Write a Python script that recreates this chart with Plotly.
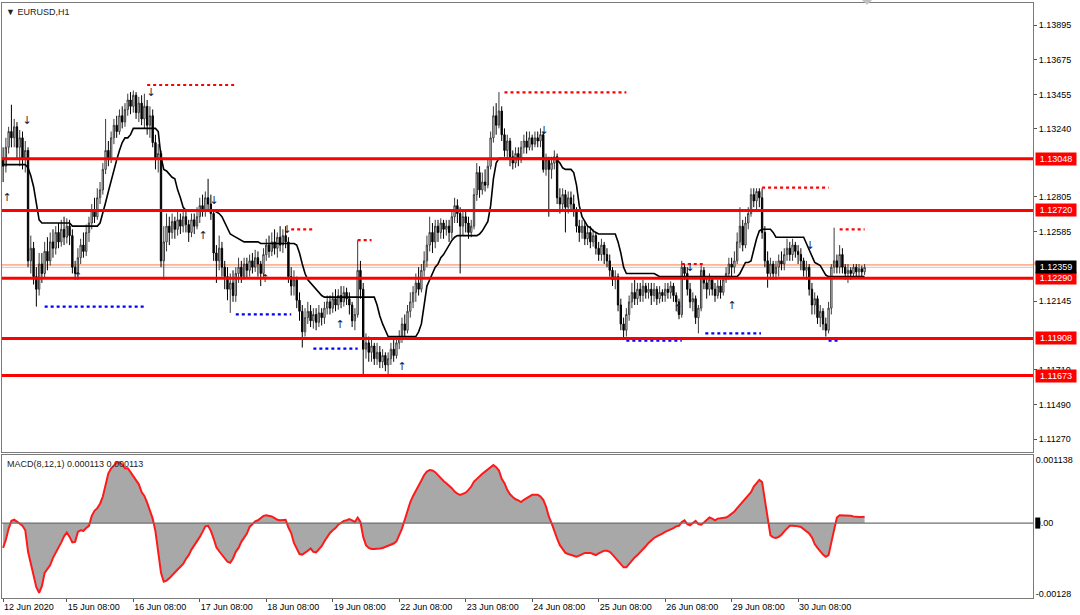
import plotly.graph_objects as go

# ---------------- data (prices in pips above 1.1000) ----------------
BASE = 1.1
PIP = 0.0001

DATE_LABELS = ["12 Jun 2020", "15 Jun 08:00", "16 Jun 08:00", "17 Jun 08:00", "18 Jun 08:00",
               "19 Jun 08:00", "22 Jun 08:00", "23 Jun 08:00", "24 Jun 08:00", "25 Jun 08:00",
               "26 Jun 08:00", "29 Jun 08:00", "30 Jun 08:00"]
DATE_BARS = [0, 23, 47, 71, 95, 119, 143, 167, 191, 215, 239, 263, 287]

OPEN0 = 305
CLOSE = [300,312,322,318,325,312,318,305,310,
         240,248,230,222,238,
         232,246,240,252,248,258,
         252,260,255,262,256,
         236,232,
         242,250,246,258,264,
         272,268,280,285,
         298,310,305,318,
         326,322,332,328,336,
         342,338,345,334,340,330,338,326,332,
         315,305,308,
         240,
         252,262,258,
         265,260,266,262,268,263,258,266,262,268,
         275,272,280,276,270,
         245,240,
         248,236,230,
         222,226,218,232,
         236,230,238,234,
         240,236,242,238,232,244,
         250,246,252,248,255,250,256,252,
         230,
         224,228,215,208,
         195,
         204,208,202,206,201,207,204,210,
         214,210,216,212,218,214,220,216,212,
         202,206,
         234,222,
         184,
         188,182,186,178,182,176,180,174,178,
         184,180,188,192,
         200,196,208,214,220,
         226,222,234,240,
         250,258,252,262,
         258,264,260,262,258,
         268,275,270,262,
         268,264,258,262,
         282,296,285,
         290,288,300,
         318,332,326,335,
         320,310,316,
         306,302,308,304,
         312,316,312,318,314,318,316,320,
         298,
         304,298,302,306,
         280,276,282,274,280,276,272,
         262,258,262,254,258,252,256,
         248,244,250,244,240,
         234,228,230,
         212,200,196,206,
         214,220,216,222,218,224,220,222,
         218,222,216,220,218,222,220,224,218,214,
         206,
         236,232,
         222,214,216,
         204,210,
         234,
         226,222,228,222,218,224,220,228,
         232,238,236,240,
         252,262,250,264,270,
         282,278,284,280,
         258,
         240,232,238,
         232,236,240,238,
         244,248,244,250,246,244,240,
         234,236,
         222,212,216,
         204,208,200,196,
         210,236,
         240,236,
         244,236,
         232,234,232,236,233,235,233,235.9]

HIGH = [312,318,325,339,330,328,323,322,316,
        312,256,252,236,245,
        245,252,255,258,260,262,
        264,266,268,267,266,
        260,240,
        248,254,258,263,268,
        276,280,286,290,
        302,330,316,322,
        330,332,336,338,340,
        346,347,348,347,344,345,346,342,338,
        336,320,314,
        310,
        262,270,268,
        270,268,271,270,272,272,266,270,270,274,
        280,282,284,292,282,
        272,250,
        256,252,240,
        236,232,234,236,
        242,240,242,242,
        244,245,247,246,240,248,
        254,256,258,260,258,262,260,262,
        255,
        236,234,230,220,
        212,
        210,214,212,210,210,212,210,214,
        218,218,220,222,222,224,224,223,220,
        214,210,
        253,240,
        226,
        194,192,190,188,188,186,184,182,182,
        188,190,192,196,
        204,206,212,220,224,
        232,236,238,246,
        256,268,264,266,
        266,267,266,266,266,
        272,280,279,274,
        272,272,268,266,
        286,302,300,
        296,298,304,
        322,338,340,347,
        338,324,320,
        318,310,312,312,
        316,320,322,322,320,322,322,324,
        322,
        308,306,306,310,
        308,286,286,285,284,284,282,
        274,266,266,265,262,262,260,
        258,252,254,252,248,
        244,236,234,
        232,216,204,210,
        218,226,228,226,226,228,226,226,
        226,226,224,224,222,226,226,227,226,220,
        216,
        240,238,
        236,226,220,
        218,212,
        238,
        236,230,232,230,226,228,228,230,
        236,242,242,246,
        258,274,266,268,274,
        286,286,286,286,
        286,
        262,246,242,
        240,240,244,246,
        248,254,252,254,252,250,248,
        242,240,
        238,226,220,
        218,212,210,204,
        214,238,
        261,244,
        250,248,
        238,238,236,238,238,238,237,238]

LOW = [290,296,308,312,312,305,300,298,296,
       236,232,225,211,218,
       226,229,234,237,242,244,
       248,249,250,251,250,
       232,228,
       230,238,242,243,252,
       260,264,266,276,
       282,295,300,302,
       314,318,320,324,325,
       332,333,334,330,328,326,324,320,318,
       312,298,296,
       236,
       228,246,250,
       254,254,256,257,258,258,252,255,257,260,
       264,268,268,272,266,
       240,226,
       234,230,222,
       215,207,214,214,
       226,226,228,229,
       230,232,233,230,224,230,
       240,242,243,244,242,246,245,248,
       226,
       218,218,210,202,
       185,
       192,200,198,197,196,198,199,200,
       206,206,207,208,209,210,211,212,206,
       198,196,
       204,216,
       168,
       178,176,176,174,174,172,172,170,168,
       174,176,178,184,
       188,192,194,204,210,
       214,218,220,230,
       236,246,245,248,
       252,254,254,256,252,
       254,264,264,232,
       256,258,254,255,
       260,278,280,
       282,284,286,
       298,315,320,324,
       316,306,304,
       300,298,299,300,
       302,308,308,310,310,312,312,312,
       296,
       294,268,292,298,
       276,270,272,258,270,272,268,
       258,252,254,250,250,248,249,
       244,240,240,238,236,
       230,224,222,
       208,196,191,192,
       202,210,212,212,214,214,216,216,
       212,214,212,213,214,214,216,216,214,208,
       203,
       204,228,
       218,210,208,
       200,194,
       208,
       222,216,218,218,214,216,216,218,
       226,228,230,232,
       238,248,246,248,260,
       268,274,272,274,
       254,
       236,223,228,
       228,228,230,234,
       234,240,240,240,242,238,234,
       230,228,
       218,206,206,
       200,198,196,192,
       194,206,
       232,232,
       232,232,
       228,226,228,230,230,230,230,231]

# trailing (black) line, pips above 1.1000
TRAIL = ([301]*9 + [299,294,287,277,266] + [264]*11 + [262]*10 + [264] +
         [270,277,284,291,297,304,310,315,318,318,320,324] + [324]*8 +
         [322,306,298,297,295,293,292,285,280,274] + [272]*11 +
         [271,270,268,264,260,257,256,255,254,253] + [252]*6 + [251]*13 +
         [250,245,238,232,228,226,224,222,220,218] + [217]*19 +
         [212,205,200,196,192] + [192]*10 +
         [195,200,212,224,228,232,236,238,242,244,247,250,253,255] + [256]*8 +
         [257,259,262,265,275,292,302] + [305]*21 +
         [304,302,299,298,298,298,296,288,275,268,265,262,261,259,258] + [257]*7 +
         [252,245,236,232] + [232]*10 + [231] + [230]*29 +
         [232,236,239,239,240,247,254,259] + [260]*4 + [258,255] + [255]*10 +
         [251,247,242,239,238,237,234,231] + [230]*14)

# MACD main line, units of 1e-5
MACD = [-45,-30,-10,4,6,3,-1,-5,-13,-52,-75,-98,-116,-126,-114,-90,-84,-76,-63,-54,
        -45,-35,-24,-17,-25,-35,-34,-16,-13,-14,-9,-5,13,22,27,35,48,70,90,99,
        105,109,110,106,99,99,92,84,76,70,56,49,37,22,8,-15,-55,-90,-106,-104,
        -100,-94,-89,-84,-79,-74,-65,-58,-48,-41,-34,-25,-16,-6,-5,-14,-28,-44,-51,-57,
        -64,-70,-72,-64,-52,-45,-34,-26,-19,-7,-2,3,5,9,13,14,13,12,9,6,
        5,6,6,-8,-18,-36,-47,-56,-57,-54,-50,-46,-52,-53,-48,-42,-33,-25,-18,-13,
        -9,-3,1,4,5,7,5,2,10,2,-25,-40,-45,-47,-47,-47,-46,-45,-43,-40,
        -39,-37,-33,-22,-10,6,22,38,49,58,66,77,87,93,96,95,92,86,80,76,
        72,68,63,57,53,51,53,55,60,66,75,80,85,89,93,97,101,105,101,95,
        80,72,60,52,47,43,41,38,42,45,48,51,51,51,48,42,30,12,0,-15,
        -28,-40,-48,-54,-56,-58,-60,-61,-59,-56,-54,-54,-54,-56,-58,-55,-53,-50,-50,-52,
        -57,-63,-70,-76,-80,-80,-74,-67,-62,-58,-53,-48,-42,-36,-31,-27,-24,-22,-19,-16,
        -14,-12,-9,-6,-5,2,5,-2,-4,0,4,-2,-3,1,5,10,8,5,8,9,
        9,10,13,17,21,27,33,39,45,50,56,66,72,78,74,40,5,-22,-26,-27,
        -25,-21,-15,-9,-5,-5,-5,-6,-7,-11,-14,-19,-26,-38,-45,-52,-57,-61,-58,-35,
        -10,10,14,14,14,13,13,12,11,11,11,11.3]

# horizontal levels
H_LEVELS = [1.13048, 1.12720, 1.12290, 1.11908, 1.11673]
LAST_BID = 1.12359
LAST_ASK = 1.12374

# fractal resistance (red dotted) and support (blue dotted) segments: level (pips), start bar, end bar
RES_LEVEL = [351.5, 346.8, 286.4, 260, 253.2, 260, 238]
RES_START = [52, 181, 274, 104, 128, 302, 245]
RES_END = [84, 225, 298, 112, 133, 311, 253]
SUP_LEVEL = [211, 206, 184.3, 189.4, 194, 189.4]
SUP_START = [15, 84, 112, 225, 253.5, 298]
SUP_END = [51, 104, 128, 245, 273.6, 302]

# signal arrows (bar, pips)
DOWN_BARS = [8.7, 53.4, 76.2, 102.5, 195.3, 248, 291.3]
DOWN_PIPS = [328.6, 346.4, 277.9, 259.5, 322.3, 235.4, 249.4]
UP_BARS = [1.4, 27, 72.2, 94.6, 121.7, 144, 243.7, 263.2]
UP_PIPS = [279.8, 229.7, 255.7, 228.5, 199.3, 172.7, 209.4, 211.3]

MAIN_TICKS = [1.13895, 1.13675, 1.13455, 1.13240, 1.12805, 1.12585,
              1.12145, 1.11710, 1.11490, 1.11270]
MACD_TICKS = [0.001138, 0.0, -0.00128]
MACD_TICKTEXT = ["0.001138", "0.00", "-0.00128"]

# ---------------- build ----------------
n = len(CLOSE)
for name, arr in [("HIGH", HIGH), ("LOW", LOW), ("TRAIL", TRAIL), ("MACD", MACD)]:
    if len(arr) != n:
        raise ValueError(f"{name} has {len(arr)} values, CLOSE has {n}")

px = lambda p: BASE + p * PIP
bars = list(range(n))
opens = [px(OPEN0)] + [px(c) for c in CLOSE[:-1]]
closes = [px(c) for c in CLOSE]
highs = [px(h) for h in HIGH]
lows = [px(l) for l in LOW]

FONT = "Liberation Sans, Arial, sans-serif"
fig = go.Figure()

fig.add_trace(go.Scatter(x=bars, y=[px(t) for t in TRAIL], mode="lines",
                         line=dict(color="black", width=1.6), xaxis="x2", yaxis="y",
                         hoverinfo="skip", showlegend=False))

fig.add_trace(go.Candlestick(x=bars, open=opens, high=highs, low=lows, close=closes,
                             xaxis="x2", yaxis="y", showlegend=False, whiskerwidth=0,
                             increasing=dict(line=dict(color="#3a3a3a", width=1), fillcolor="white"),
                             decreasing=dict(line=dict(color="black", width=1), fillcolor="black")))

def seg_trace(levels, starts, ends, color):
    xs, ys = [], []
    for lv, s, e in zip(levels, starts, ends):
        xs += [s, e, None]
        ys += [px(lv), px(lv), None]
    return go.Scatter(x=xs, y=ys, mode="lines", line=dict(color=color, width=2.2, dash="dot"),
                      xaxis="x2", yaxis="y", hoverinfo="skip", showlegend=False)

fig.add_trace(seg_trace(RES_LEVEL, RES_START, RES_END, "#ff0000"))
fig.add_trace(seg_trace(SUP_LEVEL, SUP_START, SUP_END, "#0000ff"))

fig.add_trace(go.Scatter(x=DOWN_BARS, y=[px(p) for p in DOWN_PIPS], mode="text", text=["↓"] * len(DOWN_BARS),
                         textfont=dict(family="DejaVu Sans", size=11, color="#1c1c3c"),
                         xaxis="x2", yaxis="y", hoverinfo="skip", showlegend=False))
fig.add_trace(go.Scatter(x=UP_BARS, y=[px(p) for p in UP_PIPS], mode="text", text=["↑"] * len(UP_BARS),
                         textfont=dict(family="DejaVu Sans", size=11, color="#1c1c3c"),
                         xaxis="x2", yaxis="y", hoverinfo="skip", showlegend=False))

# MACD
fig.add_trace(go.Scatter(x=bars, y=[m * 1e-5 for m in MACD], mode="lines", fill="tozeroy",
                         fillcolor="#a8a8a8", line=dict(color="#ff1a1a", width=2),
                         xaxis="x", yaxis="y2", hoverinfo="skip", showlegend=False))

shapes = []
# bid / ask lines
shapes.append(dict(type="line", xref="paper", x0=0, x1=1, yref="y", y0=LAST_ASK, y1=LAST_ASK,
                   line=dict(color="#ff7a45", width=1), layer="below"))
shapes.append(dict(type="line", xref="paper", x0=0, x1=1, yref="y", y0=LAST_BID, y1=LAST_BID,
                   line=dict(color="#c8c8c8", width=1), layer="below"))
for lv in H_LEVELS:
    shapes.append(dict(type="line", xref="paper", x0=0, x1=1, yref="y", y0=lv, y1=lv,
                       line=dict(color="#ff0000", width=3), layer="above"))
shapes.append(dict(type="line", xref="paper", x0=0, x1=1, yref="y2", y0=0, y1=0,
                   line=dict(color="#707070", width=1.2), layer="above"))
# black marker on MACD zero label
shapes.append(dict(type="rect", xref="paper", x0=1.0022, x1=1.0070, yref="y2", y0=-0.0001, y1=0.0001,
                   fillcolor="black", line=dict(width=0), layer="above"))
# ask price tag sliver
shapes.append(dict(type="rect", xref="paper", x0=1.0015, x1=1.0410, yref="y", y0=1.12372, y1=1.12395,
                   fillcolor="#ff7a45", line=dict(width=0), layer="above"))
# chart shift marker
shapes.append(dict(type="path", xref="paper", yref="paper",
                   path="M 0.834 1.005 L 0.844 1.005 L 0.839 0.997 Z",
                   fillcolor="#c0c0c0", line=dict(width=0)))

annotations = []
for lv in H_LEVELS:
    annotations.append(dict(xref="paper", x=1, xanchor="left", xshift=2, yref="y", y=lv, yanchor="middle",
                            text=f"{lv:.5f}", showarrow=False, bgcolor="#ff0000", borderpad=1, width=38,
                            font=dict(family=FONT, size=9, color="white")))
annotations.append(dict(xref="paper", x=1, xanchor="left", xshift=2, yref="y", y=LAST_BID, yanchor="middle",
                        text=f"{LAST_BID:.5f}", showarrow=False, bgcolor="black", borderpad=1, width=38,
                        font=dict(family=FONT, size=9, color="white")))
annotations.append(dict(xref="paper", x=0.002, xanchor="left", yref="paper", y=1, yanchor="top", yshift=-2,
                        text="▼ EURUSD,H1", showarrow=False,
                        font=dict(family=FONT, size=9, color="#222222")))
annotations.append(dict(xref="paper", x=0.003, xanchor="left", yref="paper", y=0.2403, yanchor="top", yshift=-2,
                        text="MACD(8,12,1) 0.000113 0.000113", showarrow=False,
                        font=dict(family=FONT, size=9, color="#222222")))

axis_line = dict(showline=True, linecolor="#7a7a7a", linewidth=1, mirror=True, showgrid=False,
                 zeroline=False, automargin=False)
tickfont = dict(family=FONT, size=9, color="black")

fig.update_layout(
    width=1080, height=615,
    margin=dict(l=2, r=47, t=3, b=17, autoexpand=False),
    paper_bgcolor="white", plot_bgcolor="white",
    showlegend=False,
    xaxis=dict(domain=[0, 1], anchor="y2", range=[-0.4, 371.8], tickvals=DATE_BARS, ticktext=DATE_LABELS,
               ticks="outside", ticklen=3, tickcolor="#555", ticklabelposition="outside right",
               tickfont=tickfont, rangeslider=dict(visible=False), **axis_line),
    xaxis2=dict(domain=[0, 1], anchor="y", matches="x", showticklabels=False, ticks="",
                rangeslider=dict(visible=False), **axis_line),
    yaxis=dict(domain=[0.2454, 1], anchor="x2", side="right", range=[1.11188, 1.14035],
               tickvals=MAIN_TICKS, ticktext=[f"{t:.5f}" for t in MAIN_TICKS],
               ticks="outside", ticklen=3, tickcolor="#555", tickfont=tickfont, **axis_line),
    yaxis2=dict(domain=[0, 0.2403], anchor="x", side="right", range=[-0.001355, 0.00123],
                tickvals=MACD_TICKS, ticktext=MACD_TICKTEXT, ticks="", tickfont=tickfont, **axis_line),
    shapes=shapes, annotations=annotations,
)

fig.write_html("out.html", config={"displayModeBar": False},
               post_script="document.body.style.margin='0px';document.body.style.padding='0px';")
